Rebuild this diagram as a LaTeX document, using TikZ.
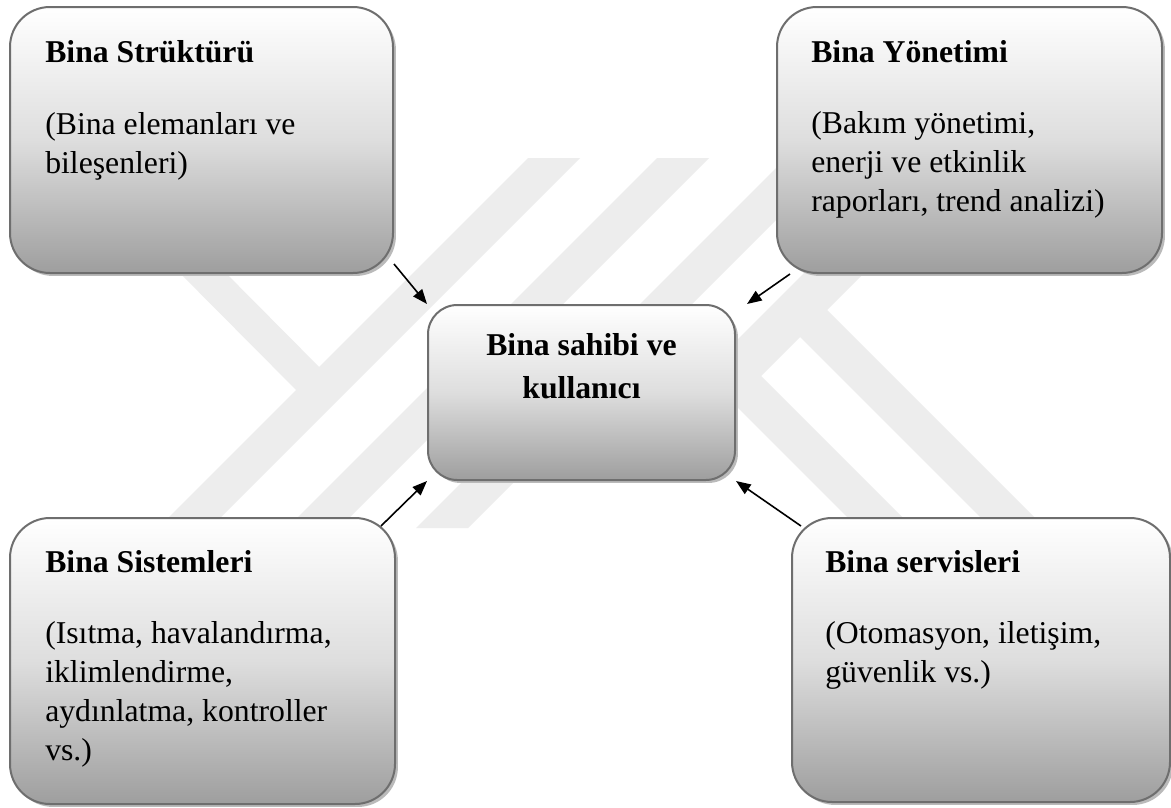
\documentclass[tikz,border=0pt]{standalone}
\usepackage{fontspec}
\setmainfont{Liberation Serif}
\usetikzlibrary{shadows,arrows.meta}
\tikzset{
  wm/.style={fill=black!7, draw=none},
  boxshape/.style={rectangle, rounded corners=30pt, draw=black!57, line width=1.5pt,
    top color=white, bottom color=black!38, middle color=black!13, inner sep=0pt,
    drop shadow={shadow xshift=2.2pt, shadow yshift=-2.2pt, fill=black!27, opacity=1}},
  centershape/.style={boxshape, rounded corners=22pt},
  ttl/.style={anchor=base west, inner sep=0pt, font=\bfseries\fontsize{23.8}{29.25}\selectfont},
  bdy/.style={anchor=base west, inner sep=0pt, font=\fontsize{23.8}{29.25}\selectfont},
  ctr/.style={anchor=base, inner sep=0pt, font=\bfseries\fontsize{23.8}{32.25}\selectfont},
  arr/.style={line width=1.2pt, -{Triangle[length=11pt,width=8.5pt]}}
}
\begin{document}
\begin{tikzpicture}[x=0.75pt,y=-0.75pt]
\path[use as bounding box, fill=white] (0,0) rectangle (1171,807);
% faint watermark
\fill[wm] (528,158) -- (580,158) -- (210,528) -- (158,528) -- cycle;
\fill[wm] (657,158) -- (709,158) -- (339,528) -- (287,528) -- cycle;
\fill[wm] (786,158) -- (838,158) -- (468,528) -- (416,528) -- cycle;
\fill[wm] (162,255) -- (208,255) -- (332,380) -- (309,403) -- cycle;
\fill[wm] (817,260) -- (877,260) -- (717,420) -- (657,420) -- cycle;
\fill[wm] (812,295) -- (1045,528) -- (991,528) -- (785,322) -- cycle;
\fill[wm] (680,350) -- (735,350) -- (913,528) -- (858,528) -- cycle;
% boxes
\node[boxshape, minimum width=287.25pt, minimum height=199.5pt] (b1) at (201.5,140) {};
\node[boxshape, minimum width=288.75pt, minimum height=199.5pt] (b2) at (969.5,140) {};
\node[boxshape, minimum width=288.75pt, minimum height=214.5pt] (b3) at (202.5,661) {};
\node[boxshape, minimum width=283.5pt, minimum height=213pt] (b4) at (981,660) {};
\node[centershape, minimum width=230.25pt, minimum height=131.25pt] (c) at (581.5,392.5) {};
% texts
\node[ttl] (t1) at (45,62) {Bina Strüktürü};
\node[bdy] (d1) at (45,134) {\parbox[t]{290pt}{\raggedright (Bina elemanları ve\\bileşenleri)}};
\node[ttl] (t2) at (811,62) {Bina Yönetimi};
\node[bdy] (d2) at (811,133) {\parbox[t]{290pt}{\raggedright (Bakım yönetimi,\\enerji ve etkinlik\\raporları, trend analizi)}};
\node[ttl] (t3) at (45,572) {Bina Sistemleri};
\node[bdy] (d3) at (45,643) {\parbox[t]{290pt}{\raggedright (Isıtma, havalandırma,\\iklimlendirme,\\aydınlatma, kontroller\\vs.)}};
\node[ttl] (t4) at (825,572) {Bina servisleri};
\node[bdy] (d4) at (825,643) {\parbox[t]{290pt}{\raggedright (Otomasyon, iletişim,\\güvenlik vs.)}};
\node[ctr] (tc) at (581.5,355) {\parbox[t]{220pt}{\centering Bina sahibi ve\\kullanıcı}};
% arrows
\draw[arr] ([yshift=7.5pt]b1.south east) -- (c.north west);
\draw[arr] ([xshift=10.5pt]b2.south west) -- ([xshift=8.25pt]c.north east);
\draw[arr] ([xshift=-11.25pt,yshift=-6.75pt]b3.north east) -- (c.south west);
\draw[arr] ([xshift=7.5pt,yshift=-6.75pt]b4.north west) -- (c.south east);
\end{tikzpicture}
\end{document}
